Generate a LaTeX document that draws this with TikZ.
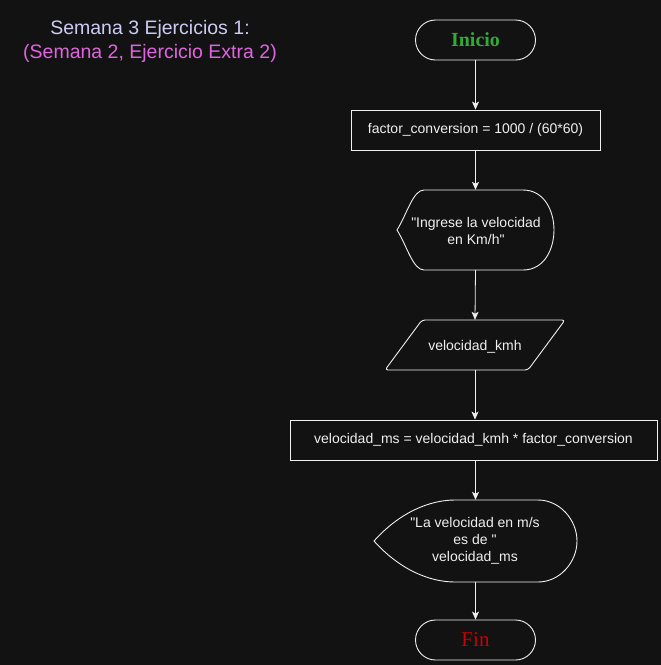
\documentclass[tikz,border=0pt]{standalone}
\usepackage{fontspec}
\setmainfont{Liberation Sans}
\newfontfamily\serifd{Liberation Serif}
\usetikzlibrary{arrows.meta,calc}
\definecolor{bgc}{RGB}{18,18,18}
\definecolor{linec}{RGB}{240,240,240}
\definecolor{titlea}{RGB}{204,204,245}
\definecolor{titleb}{RGB}{224,100,224}
\definecolor{startc}{RGB}{51,170,51}
\definecolor{endc}{RGB}{204,0,0}
\newcommand{\qd}{\textquotedbl}
\tikzset{
  box/.style={draw=linec, line width=0.9pt, fill=bgc, text=linec, font=\fontsize{14}{17}\selectfont, inner sep=0pt, align=center},
  term/.style={draw=linec, line width=0.9pt, rounded corners=20pt, minimum width=120pt, minimum height=40pt, inner sep=0pt},
  ghost/.style={inner sep=0pt, text=linec, font=\fontsize{14}{17}\selectfont, align=center},
  outl/.style={draw=linec, line width=0.9pt},
  flow/.style={draw=linec, line width=0.8pt, -{Stealth[length=8pt,width=7pt,inset=2pt]}},
}
\begin{document}
\begin{tikzpicture}[x=1pt,y=-1pt]
\fill[bgc] (0,0) rectangle (661,665);
\useasboundingbox (0,0) rectangle (661,665);

% title
\node[text=titlea, font=\fontsize{19.5}{22}\selectfont] (t1) at (150,29) {Semana 3 Ejercicios 1:};
\node[text=titleb, font=\fontsize{19.5}{22}\selectfont] (t2) at (150,53) {(Semana 2, Ejercicio Extra 2)};

% start
\node[term, text=startc, font=\serifd\bfseries\fontsize{20}{22}\selectfont] (ini) at (475.5,40) {Inicio};

% assignment 1
\node[box, minimum width=249pt, minimum height=40pt] (a1) at (475.5,130) {factor\_conversion = 1000 / (60*60)};

% display 1
\node[ghost, minimum width=156pt, minimum height=80pt] (d1) at (475.5,230) {};
\draw[outl] (397,230) .. controls (407,214) and (413,190) .. (424,190) -- (523,190)
  .. controls (545,190) and (554,212) .. (554,230)
  .. controls (554,248) and (545,270) .. (523,270) -- (424,270)
  .. controls (413,270) and (407,246) .. (397,230) -- cycle;
\node[ghost] (d1t) at (476,231) {\qd Ingrese la velocidad\\en Km/h\qd};

% input
\node[ghost, minimum width=180pt, minimum height=50pt] (in1) at (475,345) {};
\draw[outl, rounded corners=3pt] (422,320) -- (565,320) -- (528,370) -- (385,370) -- cycle;
\node[ghost] (in1t) at (475,347) {velocidad\_kmh};

% assignment 2
\node[box, minimum width=367pt, minimum height=40pt] (a2) at (473.5,440) {velocidad\_ms = velocidad\_kmh * factor\_conversion};

% display 2
\node[ghost, minimum width=203pt, minimum height=82pt] (d2) at (475.5,541) {};
\draw[outl] (374,541) .. controls (400,512) and (430,500) .. (455,500) -- (538,500)
  .. controls (560,500) and (577,520) .. (577,541)
  .. controls (577,562) and (560,582) .. (538,582) -- (455,582)
  .. controls (430,582) and (400,570) .. (374,541) -- cycle;
\node[ghost] (d2t) at (475,541) {\qd La velocidad en m/s\\es de \qd\\velocidad\_ms};

% end
\node[term, text=endc, font=\serifd\fontsize{21}{23}\selectfont] (fin) at (475.5,640) {Fin};

% connectors
\draw[flow] (ini.south) -- (a1.north);
\draw[flow] (a1.south) -- (d1.north);
\draw[flow] (d1.south) -- (in1.north);
\draw[flow] (in1.south) -- (a2.north -| in1.south);
\draw[flow] (d2.north |- a2.south) -- (d2.north);
\draw[flow] (d2.south) -- (fin.north);
\end{tikzpicture}
\end{document}
